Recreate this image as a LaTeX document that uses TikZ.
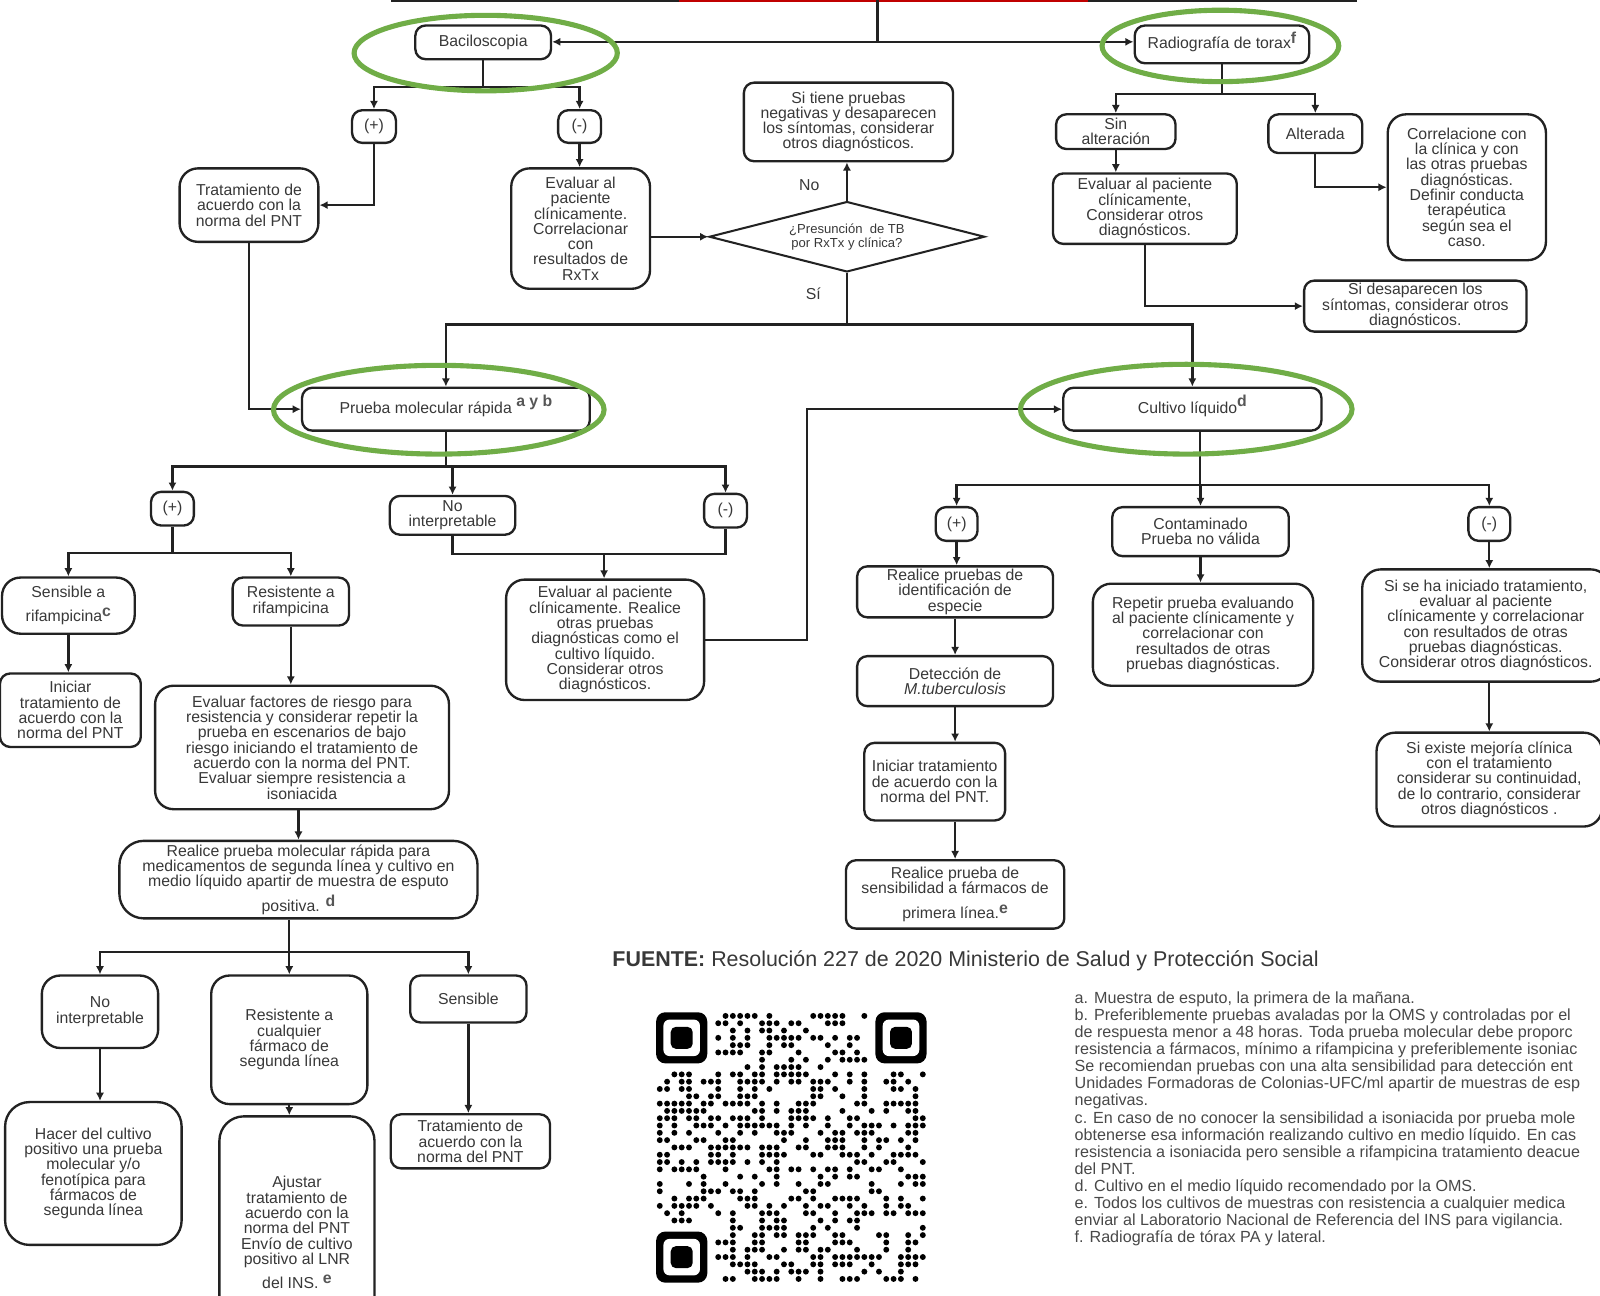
\documentclass[tikz,border=0pt]{standalone}
\usepackage{fontspec}
\setmainfont{Liberation Sans}
\usetikzlibrary{arrows.meta,shapes.geometric}
\definecolor{txt}{HTML}{383838}
\definecolor{edge}{HTML}{222222}
\definecolor{ring}{HTML}{70AD47}
\definecolor{topred}{HTML}{C00000}
\definecolor{foot}{HTML}{484848}
\newcommand\boxfont{\fontsize{15.5}{15}\selectfont}
\newcommand\footfont{\fontsize{15.8}{16.7}\selectfont}
\newcommand\supl[2][6pt]{\smash{\raisebox{#1}{\bfseries\color{txt!85} #2}}}
\begin{document}
\begin{tikzpicture}[x=1pt,y=-1pt,
  box/.style={draw=edge, line width=2.3pt, rounded corners=10pt, align=center,
    text=txt, font=\boxfont, inner sep=2pt},
  bigbox/.style={box, rounded corners=18pt},
  ln/.style={draw=edge, line width=2.3pt},
  arr/.style={draw=edge, line width=2.3pt, -{Latex[length=8pt,width=8pt]}},
  ringe/.style={draw=ring, line width=5pt, ellipse, inner sep=0pt},
  lbl/.style={text=txt, font=\boxfont, inner sep=0pt}]
\useasboundingbox (0,0) rectangle (1568,1270);

% rule along the top edge
\draw[line width=3pt, draw=edge] (383,0) -- (1330,0);
\draw[line width=3pt, draw=topred] (665,0) -- (1066,0);

% ---------- first level ----------
\node[box, minimum width=133pt, minimum height=33pt] (bacilo) at (473.5,41.5) {Baciloscopia};
\node[box, minimum width=171pt, minimum height=37pt] (radio) at (1197.5,43.5) {\raisebox{-3pt}{Radiografía de torax}\supl[2pt]{f}};

% ---------- smear branch ----------
\node[box, minimum width=43pt, minimum height=32pt] (bpos) at (366.5,124) {(+)};
\node[box, minimum width=42pt, minimum height=32pt] (bneg) at (568,124) {(-)};
\node[bigbox, minimum width=136pt, minimum height=72pt] (trat1) at (244,201) {Tratamiento de\\acuerdo con la\\norma del PNT};
\node[bigbox, minimum width=136pt, minimum height=118pt] (eval1) at (569,224) {Evaluar al\\paciente\\clínicamente.\\Correlacionar\\con\\resultados de\\RxTx};
\node[draw=edge, line width=2pt, diamond, aspect=3.9, minimum width=270pt, minimum height=69pt,
  inner sep=0pt, align=center, text=txt, font=\fontsize{12.8}{13.5}\selectfont] (dia) at (830,232)
  {¿Presunción\ \ de TB\\por RxTx y clínica?};
\node[box, minimum width=205pt, minimum height=77pt] (sitiene) at (831.5,119.5) {Si tiene pruebas\\negativas y desaparecen\\los síntomas, considerar\\otros diagnósticos.};
\node[lbl] (lno) at (793,181) {No};
\node[lbl] (lsi) at (797,288) {Sí};

% ---------- chest x-ray branch ----------
\node[box, minimum width=117pt, minimum height=34pt] (sinalt) at (1093.5,129) {Sin\\alteración};
\node[box, minimum width=92pt, minimum height=38pt] (alterada) at (1289,131) {Alterada};
\node[box, minimum width=180pt, minimum height=69pt] (eval2) at (1122,204.5) {Evaluar al paciente\\clínicamente,\\Considerar otros\\diagnósticos.};
\node[bigbox, minimum width=155pt, minimum height=143pt] (correl) at (1437.5,183.5) {Correlacione con\\la clínica y con\\las otras pruebas\\diagnósticas.\\Definir conducta\\terapéutica\\según sea el\\caso.};
\node[box, minimum width=218pt, minimum height=50pt] (sidesap) at (1387,300) {Si desaparecen los\\síntomas, considerar otros\\diagnósticos.};

% ---------- second level ----------
\node[box, minimum width=282pt, minimum height=42pt] (pmr) at (437,401) {Prueba molecular rápida \supl[7pt]{a y b}};
\node[box, minimum width=253pt, minimum height=42pt] (cultivo) at (1168.5,401) {Cultivo líquido\supl[7pt]{d}};

% ---------- rapid molecular test branch ----------
\node[box, minimum width=42pt, minimum height=33pt] (ppos) at (169,498.5) {(+)};
\node[box, minimum width=123pt, minimum height=38pt] (noint1) at (443.5,505) {No\\interpretable};
\node[box, minimum width=42pt, minimum height=33pt] (pneg) at (711,500.5) {(-)};
\node[bigbox, minimum width=130pt, minimum height=55pt] (sensrif) at (67,593.5) {Sensible a\\[9pt]rifampicina\supl[5pt]{c}};
\node[box, minimum width=114pt, minimum height=47pt] (resrif) at (285,589.5) {Resistente a\\rifampicina};
\node[box, minimum width=138pt, minimum height=72pt] (iniciar1) at (69,696) {Iniciar\\tratamiento de\\acuerdo con la\\norma del PNT};
\node[bigbox, minimum width=288pt, minimum height=121pt] (evalfact) at (296,732.5) {Evaluar factores de riesgo para\\resistencia y considerar repetir la\\prueba en escenarios de bajo\\riesgo iniciando el tratamiento de\\acuerdo con la norma del PNT.\\Evaluar siempre resistencia a\\isoniacida};
\node[bigbox, rounded corners=24pt, minimum width=351pt, minimum height=76pt] (realice2) at (292.5,862) {Realice prueba molecular rápida para\\medicamentos de segunda línea y cultivo en\\medio líquido apartir de muestra de esputo\\[9pt]positiva. \supl[5pt]{d}};
\node[bigbox, minimum width=114pt, minimum height=71pt] (noint2) at (98,991.5) {No\\interpretable};
\node[bigbox, minimum width=153pt, minimum height=126pt] (rescual) at (283.5,1019) {Resistente a\\cualquier\\fármaco de\\segunda línea};
\node[box, minimum width=114pt, minimum height=46pt] (sensible) at (459,979) {Sensible};
\node[bigbox, rounded corners=24pt, minimum width=173pt, minimum height=140pt] (hacer) at (91.5,1150) {Hacer del cultivo\\positivo una prueba\\molecular y/o\\fenotípica para\\fármacos de\\segunda línea};
\node[bigbox, rounded corners=24pt, minimum width=152pt, minimum height=228pt] (ajustar) at (291,1208) {Ajustar\\tratamiento de\\acuerdo con la\\norma del PNT\\Envío de cultivo\\positivo al LNR\\[9pt]del INS. \supl[5pt]{e}};
\node[box, minimum width=156pt, minimum height=53pt] (trat2) at (461,1118.5) {Tratamiento de\\acuerdo con la\\norma del PNT};
\node[bigbox, minimum width=194pt, minimum height=118pt] (evalpac) at (593,627) {Evaluar al paciente\\clínicamente. Realice\\otras pruebas\\diagnósticas como el\\cultivo líquido.\\Considerar otros\\diagnósticos.};

% ---------- liquid culture branch ----------
\node[box, minimum width=41pt, minimum height=33pt] (cpos) at (937.5,513.5) {(+)};
\node[box, minimum width=173pt, minimum height=48pt] (contam) at (1176.5,521) {Contaminado\\Prueba no válida};
\node[box, minimum width=41pt, minimum height=33pt] (cneg) at (1459.5,513.5) {(-)};
\node[box, minimum width=192pt, minimum height=50pt] (realice1) at (936,580) {Realice pruebas de\\identificación de\\especie};
\node[box, minimum width=192pt, minimum height=49pt] (detec) at (936,667.5) {Detección de\\\textit{M.tuberculosis}};
\node[box, minimum width=138pt, minimum height=76pt] (iniciar2) at (916,766) {Iniciar tratamiento\\de acuerdo con la\\norma del PNT.};
\node[box, minimum width=214pt, minimum height=67pt] (sensfar) at (936,876.5) {Realice prueba de\\sensibilidad a fármacos de\\[9pt]primera línea.\supl[5pt]{e}};
\node[bigbox, minimum width=216pt, minimum height=100pt] (repetir) at (1179,622) {Repetir prueba evaluando\\al paciente clínicamente y\\correlacionar con\\resultados de otras\\pruebas diagnósticas.};
\node[bigbox, minimum width=242pt, minimum height=110pt] (siseha) at (1456,613) {Si se ha iniciado tratamiento,\\evaluar al paciente\\clínicamente y correlacionar\\con resultados de otras\\pruebas diagnósticas.\\Considerar otros diagnósticos.};
\node[bigbox, minimum width=221pt, minimum height=92pt] (siexiste) at (1459.5,764) {Si existe mejoría clínica\\con el tratamiento\\considerar su continuidad,\\de lo contrario, considerar\\otros diagnósticos .};

% ---------- connectors ----------
\coordinate (topc) at (860,0);
\coordinate (tj) at (860,41);
\draw[ln] (topc) -- (tj);
\draw[arr] (tj) -- (bacilo.east |- tj);
\draw[arr] (tj) -- (radio.west |- tj);

\coordinate (bj) at (473.5,85);
\draw[ln] (bacilo.south) -- (bj);
\draw[arr] (bj) -| (bpos.north);
\draw[arr] (bj) -| (bneg.north);
\draw[arr] (bpos.south) |- (trat1.east);
\draw[arr] (bneg.south) -- (bneg.south |- eval1.north);
\draw[arr] (eval1.east |- dia.west) -- (dia.west);
\draw[arr] (dia.north) -- (dia.north |- sitiene.south);
\coordinate (sj) at (830,318);
\draw[ln] (dia.south) -- (sj);
\draw[arr] (sj) -| (pmr.north);
\draw[arr] (sj) -| (cultivo.north);
\draw[arr] (trat1.south) |- (pmr.west);

\coordinate (rj) at (1197.5,92);
\draw[ln] (radio.south) -- (rj);
\draw[arr] (rj) -| (sinalt.north);
\draw[arr] (rj) -| (alterada.north);
\draw[arr] (sinalt.south) -- (sinalt.south |- eval2.north);
\draw[arr] (alterada.south) |- (correl.west);
\draw[arr] (eval2.south) |- (sidesap.west);

\coordinate (pj) at (437,457);
\draw[ln] (pmr.south) -- (pj);
\draw[arr] (pj) -| (ppos.north);
\draw[arr] (pj) -| (noint1.north);
\draw[arr] (pj) -| (pneg.north);
\coordinate (ppj) at (169,542);
\draw[ln] (ppos.south) -- (ppj);
\draw[arr] (ppj) -| (sensrif.north);
\draw[arr] (ppj) -| (resrif.north);
\draw[arr] (sensrif.south) -- (sensrif.south |- iniciar1.north);
\draw[arr] (resrif.south) -- (resrif.south |- evalfact.north);
\draw[arr] (realice2.north |- evalfact.south) -- (realice2.north);
\coordinate (r2j) at (283.5,933);
\draw[ln] (r2j |- realice2.south) -- (r2j);
\draw[arr] (r2j) -| (noint2.north);
\draw[arr] (r2j) -- (rescual.north);
\draw[arr] (r2j) -| (sensible.north);
\draw[arr] (noint2.south) -- (noint2.south |- hacer.north);
\draw[arr] (rescual.south) -- (rescual.south |- ajustar.north);
\draw[arr] (sensible.south) -- (sensible.south |- trat2.north);
\coordinate (nj) at (592,543);
\draw[ln] (noint1.south) |- (nj) -| (pneg.south);
\draw[arr] (nj) -- (nj |- evalpac.north);
\draw[arr] (evalpac.east) -- ++(100,0) |- (cultivo.west);

\coordinate (cj) at (1176,475);
\draw[ln] (cj |- cultivo.south) -- (cj);
\draw[arr] (cj) -| (cpos.north);
\draw[arr] (cj) -| (contam.north);
\draw[arr] (cj) -| (cneg.north);
\draw[arr] (cpos.south) -- (cpos.south |- realice1.north);
\draw[arr] (realice1.south) -- (realice1.south |- detec.north);
\draw[arr] (detec.south) -- (detec.south |- iniciar2.north);
\draw[arr] (sensfar.north |- iniciar2.south) -- (sensfar.north);
\draw[arr] (contam.south) -- (contam.south |- repetir.north);
\draw[arr] (cneg.south) -- (cneg.south |- siseha.north);
\draw[arr] (cneg.south |- siseha.south) -- (cneg.south |- siexiste.north);

% ---------- green highlight rings ----------
\node[ringe, minimum width=258pt, minimum height=74pt] (ringA) at (476,52) {};
\node[ringe, minimum width=232pt, minimum height=70pt] (ringB) at (1196,45) {};
\node[ringe, minimum width=324pt, minimum height=87pt] (ringC) at (430,401.5) {};
\node[ringe, minimum width=325pt, minimum height=88pt] (ringD) at (1162.5,401) {};

% ---------- source ----------
\node[anchor=west, inner sep=0pt, text=txt, font=\fontsize{21}{23}\selectfont] (fuente) at (600,942)
  {\textbf{FUENTE:} Resolución 227 de 2020 Ministerio de Salud y Protección Social};

% ---------- QR code ----------
\begin{scope}[shift={(643,992)}]
  \pgfmathsetseed{7}
  \foreach \i in {0,...,36}{
    \foreach \j in {0,...,36}{
      \pgfmathtruncatemacro{\infind}{((\i<8)&&(\j<8))||((\i>28)&&(\j<8))||((\i<8)&&(\j>28))}
      \pgfmathtruncatemacro{\on}{rnd<0.45}
      \ifnum\infind=0 \ifnum\on=1
        \fill[black] (\i*7.16+3.58,\j*7.16+3.58) circle (2.9);
      \fi\fi
    }
  }
  \foreach \fx/\fy in {0/0, 214.9/0, 0/214.9}{
    \fill[black, rounded corners=9pt] (\fx,\fy) rectangle ++(50.1,50.1);
    \fill[white, rounded corners=6pt] (\fx+7.16,\fy+7.16) rectangle ++(35.8,35.8);
    \fill[black, rounded corners=5pt] (\fx+14.32,\fy+14.32) rectangle ++(21.5,21.5);
  }
\end{scope}

% ---------- footnotes ----------
\node[anchor=north west, align=left, inner sep=0pt, text=foot, font=\footfont] (notes) at (1053,972) {%
a. Muestra de esputo, la primera de la mañana.\\
b. Preferiblemente pruebas avaladas por la OMS y controladas por el\\
de respuesta menor a 48 horas. Toda prueba molecular debe proporc\\
resistencia a fármacos, mínimo a rifampicina y preferiblemente isoniac\\
Se recomiendan pruebas con una alta sensibilidad para detección ent\\
Unidades Formadoras de Colonias-UFC/ml apartir de muestras de esp\\
negativas.\\
c. En caso de no conocer la sensibilidad a isoniacida por prueba mole\\
obtenerse esa información realizando cultivo en medio líquido. En cas\\
resistencia a isoniacida pero sensible a rifampicina tratamiento deacue\\
del PNT.\\
d. Cultivo en el medio líquido recomendado por la OMS.\\
e. Todos los cultivos de muestras con resistencia a cualquier medica\\
enviar al Laboratorio Nacional de Referencia del INS para vigilancia.\\
f. Radiografía de tórax PA y lateral.};
\end{tikzpicture}
\end{document}
